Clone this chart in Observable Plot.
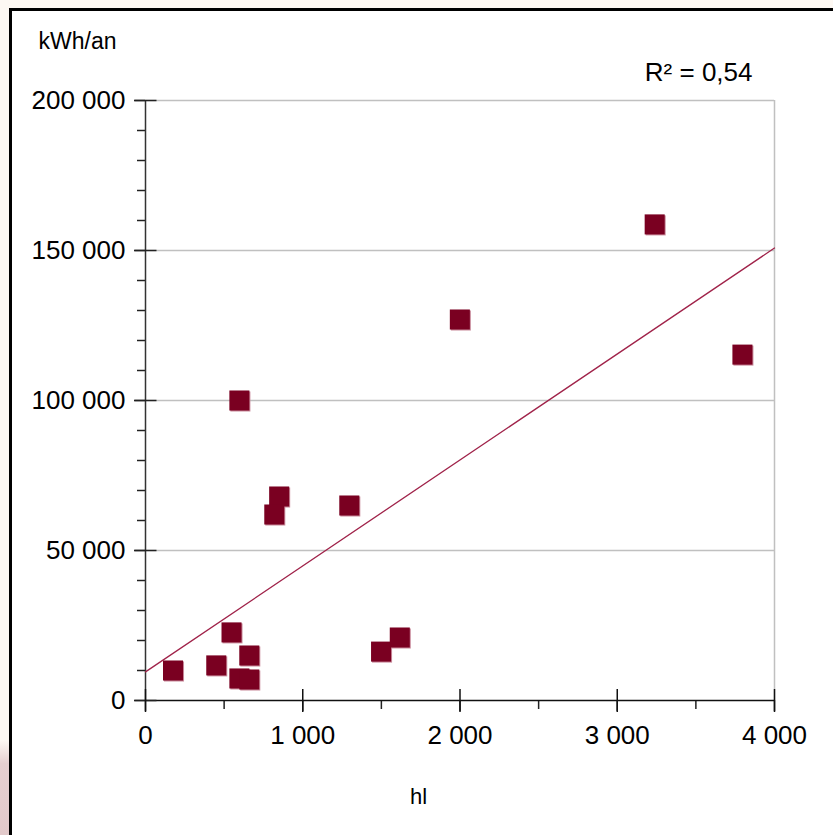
<!DOCTYPE html>
<html><head><meta charset="utf-8">
<script src="https://cdn.jsdelivr.net/npm/d3@7"></script>
<script src="https://cdn.jsdelivr.net/npm/@observablehq/plot@0.6"></script>
<style>
html,body{margin:0;padding:0;width:833px;height:835px;overflow:hidden;background:#fdf8f3;font-family:"Liberation Sans",Arial,sans-serif;}
#pink{position:absolute;left:0;top:740px;width:9px;height:95px;background:linear-gradient(#fdf8f3,#e6cfd0 25%,#e2c9ca);}
#frame{position:absolute;left:9px;top:8px;width:1000px;height:1000px;border-left:3px solid #000;border-top:3px solid #000;background:#fff;}
#chart{position:absolute;left:0;top:0;}
</style></head><body>
<div id="pink"></div><div id="frame"></div><div id="chart"></div>
<script>
// Data (hl vs kWh/an)
const hl  = [597, 850, 819, 1296, 547, 660, 450, 175, 597, 660, 1498, 1617, 1999, 3238, 3796];
const kwh = [100000, 68000, 62000, 65000, 22700, 15000, 11700, 10000, 7350, 7000, 16300, 21000, 127000, 158700, 115300];

const xDomain = [0, 4000];
const yDomain = [0, 200000];
const xTicks = [0, 1000, 2000, 3000, 4000];
const xMinorTicks = [500, 1500, 2500, 3500];
const yTicks = [0, 50000, 100000, 150000, 200000];
const yMinorTicks = [10000, 20000, 30000, 40000, 60000, 70000, 80000, 90000, 110000, 120000, 130000, 140000, 160000, 170000, 180000, 190000];
const xLabel = "hl";
const yLabel = "kWh/an";

const fr = d3.formatLocale({decimal: ",", thousands: " ", grouping: [3], currency: ["", ""]});
const fmt = fr.format(",");

const points = hl.map((x, i) => ({x, y: kwh[i]}));

// Linear regression
const mx = d3.mean(hl), my = d3.mean(kwh);
const sxy = d3.sum(points, p => (p.x - mx) * (p.y - my));
const sxx = d3.sum(points, p => (p.x - mx) ** 2);
const syy = d3.sum(points, p => (p.y - my) ** 2);
const slope = sxy / sxx;
const intercept = my - slope * mx;
const r2 = (sxy * sxy) / (sxx * syy);
const trend = xDomain.map(x => ({x, y: intercept + slope * x}));
const r2Label = "R² = " + fr.format(".2f")(r2);

const hTick = {draw(ctx, size) { const r = Math.sqrt(size / Math.PI); ctx.moveTo(-r, 0); ctx.lineTo(r, 0); }};
const vTick = {draw(ctx, size) { const r = Math.sqrt(size / Math.PI); ctx.moveTo(0, -r); ctx.lineTo(0, r); }};

const chart = Plot.plot({
  width: 833,
  height: 835,
  marginLeft: 145,
  marginRight: 59,
  marginTop: 100,
  marginBottom: 135,
  style: {background: "transparent", fontFamily: "'Liberation Sans', Arial, sans-serif", color: "#000"},
  x: {domain: xDomain},
  y: {domain: yDomain},
  marks: [
    Plot.ruleY(yTicks.filter(d => d > 0), {stroke: "#c0c0c0", strokeWidth: 1.5}),
    Plot.ruleX([xDomain[1]], {y1: yDomain[0], y2: yDomain[1], stroke: "#c0c0c0", strokeWidth: 1.5}),
    Plot.axisY(yMinorTicks, {tickSize: 8, tickFormat: () => "", label: null, stroke: "#222", strokeWidth: 1.5}),
    Plot.axisX(xMinorTicks, {tickSize: 9, tickFormat: () => "", label: null, stroke: "#222", strokeWidth: 1.5}),
    Plot.axisY(yTicks, {tickSize: 11, tickPadding: 9, tickFormat: fmt, fontSize: 26, label: null, stroke: "#222", strokeWidth: 1.5}),
    Plot.axisX(xTicks, {tickSize: 11, tickPadding: 14, tickFormat: fmt, fontSize: 26, label: null, stroke: "#222", strokeWidth: 1.5}),
    Plot.ruleX([xDomain[0]], {y1: yDomain[0], y2: yDomain[1], stroke: "#333", strokeWidth: 1.5}),
    Plot.ruleY([yDomain[0]], {x1: xDomain[0], x2: xDomain[1], stroke: "#111", strokeWidth: 1.5}),
    Plot.dot(yTicks, {x: xDomain[0], y: d => d, symbol: hTick, r: 11, fill: "none", stroke: "#222", strokeWidth: 1.5}),
    Plot.dot(xTicks, {x: d => d, y: yDomain[0], symbol: vTick, r: 11.5, fill: "none", stroke: "#111", strokeWidth: 1.5}),
    Plot.line(trend, {x: "x", y: "y", stroke: "#a0234a", strokeWidth: 1.3}),
    Plot.dot(points, {x: "x", y: "y", symbol: "square", r: 11.3, fill: "#c98a9b", dx: 1, dy: 1}),
    Plot.dot(points, {x: "x", y: "y", symbol: "square", r: 11.3, fill: "#7a0021"}),
    Plot.text([yLabel], {text: d => d, frameAnchor: "top-left", dx: -107, dy: -52, textAnchor: "start", lineAnchor: "bottom", fontSize: 23, fill: "#000"}),
    Plot.text([xLabel], {text: d => d, frameAnchor: "bottom", dx: -41.5, dy: 103, textAnchor: "middle", lineAnchor: "bottom", fontSize: 22, fill: "#000"}),
    Plot.text([r2Label], {text: d => d, frameAnchor: "top-right", dx: -22, dy: -20, textAnchor: "end", lineAnchor: "bottom", fontSize: 26, fill: "#000"})
  ]
});
document.getElementById("chart").appendChild(chart);
</script>
</body></html>
